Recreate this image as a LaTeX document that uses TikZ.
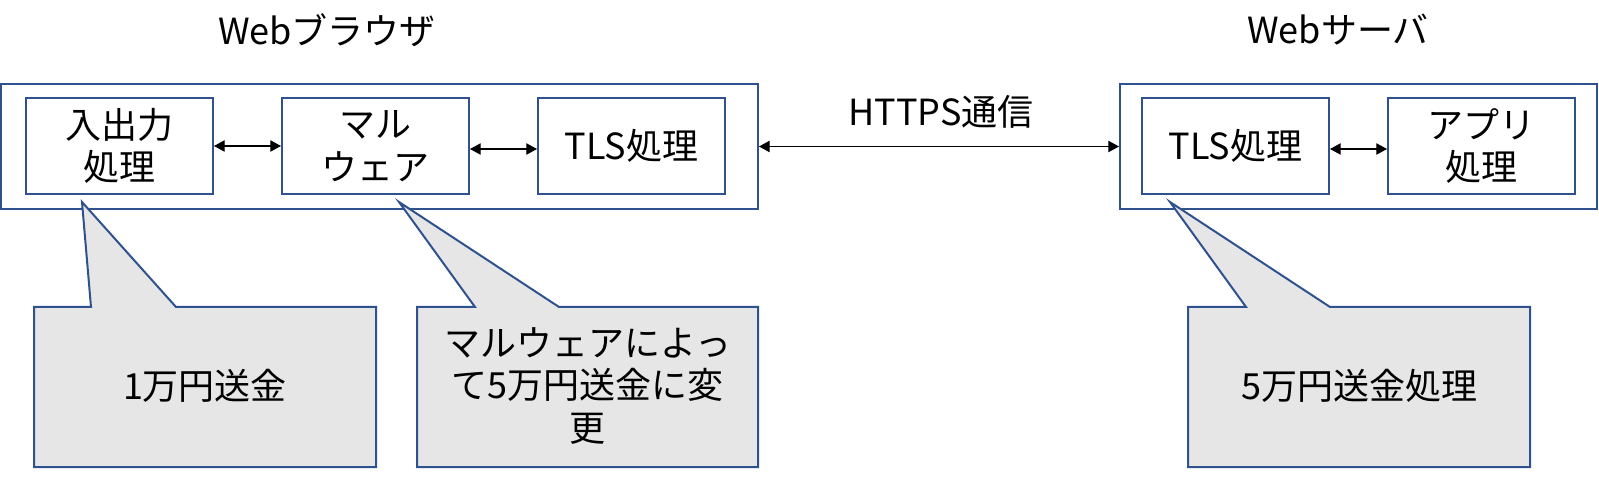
\documentclass[tikz,border=0pt]{standalone}
\usepackage{fontspec}
\setmainfont{Noto Sans CJK JP}
\usetikzlibrary{arrows.meta,calc}
\definecolor{bordblue}{HTML}{2F528F}
\definecolor{callgray}{HTML}{E6E6E6}
\begin{document}
\begin{tikzpicture}[x=0.75pt,y=-0.75pt,
  every node/.style={font=\fontsize{27pt}{32pt}\selectfont, inner sep=0pt},
  boxnode/.style={draw=bordblue, line width=1.5pt, minimum width=140.25pt, minimum height=72pt, align=center},
  outerbox/.style={draw=bordblue, line width=1.5pt, minimum height=93.75pt},
  biarrow/.style={{Triangle[length=8pt,width=8.5pt]}-{Triangle[length=8pt,width=8.5pt]}, line width=0.8pt, black},
  singlearrow/.style={-{Triangle[length=8pt,width=8.5pt]}, line width=0.8pt, black},
  calloutshape/.style={draw=bordblue, fill=callgray, line width=1.5pt, line join=miter},
  textlabel/.style={align=center}
]
\useasboundingbox (0,0) rectangle (1599,477);
% titles
\node[textlabel] (tbrowser) at (327,30) {Webブラウザ};
\node[textlabel] (tserver) at (1338,30) {Webサーバ};
% outer boxes
\node[outerbox, minimum width=567.75pt] (bout) at (379.5,146.5) {};
\node[outerbox, minimum width=357.75pt] (sout) at (1358.5,146.5) {};
% inner boxes
\node[boxnode] (io) at (119.5,146) {入出力\\処理};
\node[boxnode] (mal) at (375.5,146) {マル\\ウェア};
\node[boxnode] (tlsb) at (631.5,146) {TLS処理};
\node[boxnode] (tlss) at (1235.5,146) {TLS処理};
\node[boxnode] (app) at (1481.5,146) {アプリ\\処理};
% connectors
\draw[biarrow] (io.east) -- (mal.west);
\draw[biarrow] ($(mal.east)+(0,3)$) -- ($(tlsb.west)+(0,3)$);
\draw[biarrow] (bout.east) -- (sout.west);
\draw[biarrow] ($(tlss.east)+(0,3)$) -- ($(app.west)+(0,3)$);
\node[textlabel] (https) at (941,112) {HTTPS通信};
% callouts
\coordinate (t1) at (82,202);
\coordinate (t2) at (399,202);
\coordinate (t3) at (1170,202);
\draw[calloutshape] (91,307) -- (t1) -- (176,307) -- (376,307) -- (376,467) -- (34,467) -- (34,307) -- cycle;
\draw[calloutshape] (475,307) -- (t2) -- (559,307) -- (758,307) -- (758,467) -- (417,467) -- (417,307) -- cycle;
\draw[calloutshape] (1246,307) -- (t3) -- (1330,307) -- (1530,307) -- (1530,467) -- (1188,467) -- (1188,307) -- cycle;
\node[textlabel] (c1) at (205,386) {1万円送金};
\node[textlabel] (c2) at (587.5,386) {マルウェアによっ\\て5万円送金に変\\更};
\node[textlabel] (c3) at (1359,386) {5万円送金処理};
\end{tikzpicture}
\end{document}
